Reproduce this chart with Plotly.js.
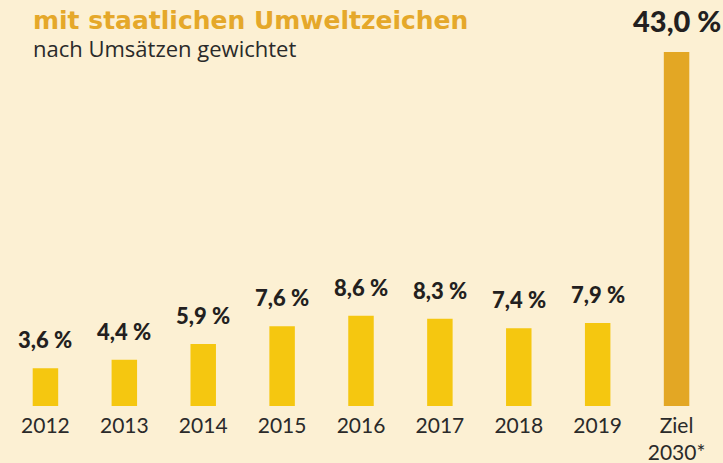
<!DOCTYPE html>
<html>
<head>
<meta charset="utf-8">
<script src="https://cdn.plot.ly/plotly-3.0.1.min.js"></script>
<style>html,body{margin:0;padding:0;background:#fcf0d3;}#chart{width:723px;height:463px;}</style>
</head>
<body>
<div id="chart"></div>
<script>
const categories = ["2012","2013","2014","2015","2016","2017","2018","2019","Ziel 2030*"];
const tickLabels = ["2012","2013","2014","2015","2016","2017","2018","2019","Ziel<br>2030*"];
const values = [3.6, 4.4, 5.9, 7.6, 8.6, 8.3, 7.4, 7.9, 43.0];
const valueLabels = ["3,6 %","4,4 %","5,9 %","7,6 %","8,6 %","8,3 %","7,4 %","7,9 %","43,0 %"];
const title = "mit staatlichen Umweltzeichen";
const subtitle = "nach Umsätzen gewichtet";

const barColors = values.map((v, i) => i === values.length - 1 ? "#e3a724" : "#f5c710");
const axisMax = 33.7;

const annotations = values.map((v, i) => {
  const isTarget = i === values.length - 1;
  return {
    x: i,
    y: isTarget ? 1 : v,
    xref: "x",
    yref: isTarget ? "paper" : "y",
    text: valueLabels[i],
    showarrow: false,
    xanchor: "center",
    yanchor: "bottom",
    yshift: isTarget ? 12 : 13,
    font: {family: "Lato, 'Open Sans', sans-serif", size: isTarget ? 29 : 22, color: "#231f20", weight: 900}
  };
});
annotations.push({
  xref: "paper", yref: "paper", x: (31 - 5.5) / 711, y: 1 + (52 - 37) / 354,
  xanchor: "left", yanchor: "bottom", showarrow: false,
  text: "<b>" + title + "</b>",
  font: {family: "'DejaVu Sans', sans-serif", size: 25, color: "#e5a82a"}
});
annotations.push({
  xref: "paper", yref: "paper", x: (31 - 5.5) / 711, y: 1 + (52 - 65) / 354,
  xanchor: "left", yanchor: "bottom", showarrow: false,
  text: subtitle,
  font: {family: "'Open Sans', sans-serif", size: 22, color: "#2a2a2a"}
});

const data = [{
  type: "bar",
  x: categories,
  y: values,
  marker: {color: barColors},
  width: 0.323,
  hoverinfo: "none"
}];

const layout = {
  width: 723, height: 463,
  margin: {l: 5.5, r: 6.5, t: 52, b: 57, pad: 0},
  paper_bgcolor: "#fcf0d3",
  plot_bgcolor: "#fcf0d3",
  showlegend: false,
  xaxis: {
    type: "category",
    range: [-0.5, 8.5],
    tickvals: categories,
    ticktext: tickLabels,
    showgrid: false, zeroline: false, showline: false,
    ticks: "",
    ticklabelstandoff: 5,
    tickfont: {family: "Lato, 'Open Sans', sans-serif", size: 21, color: "#2a2a2a"},
    fixedrange: true
  },
  yaxis: {
    range: [0, axisMax],
    showticklabels: false,
    showgrid: false, zeroline: false, showline: false,
    ticks: "",
    fixedrange: true
  },
  annotations: annotations
};

Plotly.newPlot("chart", data, layout, {displayModeBar: false, staticPlot: true});
</script>
</body>
</html>
